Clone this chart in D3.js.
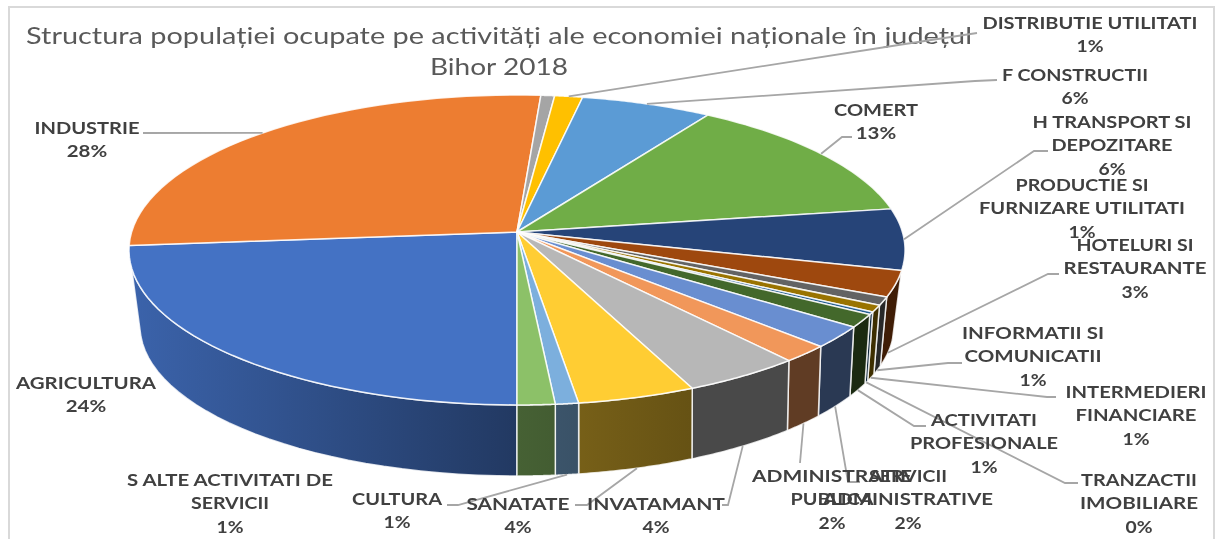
<!DOCTYPE html>
<html lang="en">
<head>
    <meta charset="UTF-8">
    <title>Structura populației ocupate</title>
    <script src="https://d3js.org/d3.v7.min.js"></script>
    <style>
        html, body { margin: 0; padding: 0; background: #fff; }
        svg { display: block; font-family: Lato, "Open Sans", sans-serif; filter: blur(0.45px); }
        .title { font-size: 24px; fill: #595959; }
        .label { font-size: 17px; font-weight: 700; fill: #404040; }
        .leader { fill: none; stroke: #a6a6a6; stroke-width: 1.8; }
    </style>
</head>
<body>
<svg width="1216" height="539"></svg>
<script>
    // data (angle of each slice as % of the disc)
    const categories = ["AGRICULTURA", "INDUSTRIE", "PRODUCTIE SI FURNIZARE UTILITATI", "DISTRIBUTIE UTILITATI",
        "F CONSTRUCTII", "COMERT", "H TRANSPORT SI DEPOZITARE", "HOTELURI SI RESTAURANTE", "INFORMATII SI COMUNICATII",
        "INTERMEDIERI FINANCIARE", "TRANZACTII IMOBILIARE", "ACTIVITATI PROFESIONALE", "SERVICII ADMINISTRATIVE",
        "ADMINISTRATIE PUBLICA", "INVATAMANT", "SANATATE", "CULTURA", "S ALTE ACTIVITATI DE SERVICII"];
    const values = [23.6, 27.5, 0.64, 1.3, 6.1, 13.4, 6.4, 2.7, 0.86, 0.7, 0.28, 1.36, 2.25, 1.8, 4.45, 4.4, 0.86, 1.4];
    const colors = ["#4472c4", "#ed7d31", "#a5a5a5", "#ffc000", "#5b9bd5", "#70ad47", "#264478", "#9e480e", "#636363",
        "#997300", "#255e91", "#43682b", "#698ed0", "#f1975a", "#b7b7b7", "#ffcd33", "#7cafdd", "#8cc168"];
    const titleLines = ["Structura populației ocupate pe activități ale economiei naționale în județul", "Bihor 2018"];

    // label layout: wrapped lines, centre x, first line y, width of each line
    const labelLines = [["AGRICULTURA"], ["INDUSTRIE"], ["PRODUCTIE SI", "FURNIZARE UTILITATI"], ["DISTRIBUTIE UTILITATI"],
        ["F CONSTRUCTII"], ["COMERT"], ["H TRANSPORT SI", "DEPOZITARE"], ["HOTELURI SI", "RESTAURANTE"], ["INFORMATII SI", "COMUNICATII"],
        ["INTERMEDIERI", "FINANCIARE"], ["TRANZACTII", "IMOBILIARE"], ["ACTIVITATI", "PROFESIONALE"], ["SERVICII", "ADMINISTRATIVE"],
        ["ADMINISTRATIE", "PUBLICA"], ["INVATAMANT"], ["SANATATE"], ["CULTURA"], ["S ALTE ACTIVITATI DE", "SERVICII"]];
    const lineWidths = [[140], [105], [133, 206], [215], [146], [84], [159, 121], [117, 143], [142, 137],
        [141, 121], [116, 118], [106, 148], [78, 170], [160, 83], [138], [103], [90], [206, 78]];
    const labelX = [86, 87, 1082, 1090, 1075, 876, 1112, 1135, 1033, 1136, 1139, 984, 908, 832, 656, 518, 397, 230];
    const labelY = [383, 128, 185, 23, 75, 110, 122, 245, 333, 392, 480, 420, 476, 476, 504, 504, 499, 480];

    // leader lines: elbows after the point on the slice edge
    const leaders = [null, [[143, 133]], null, [[905, 44], [977, 33]], [[975, 81], [997, 80]], [[842, 137], [852, 137]],
        [[1034, 151], [1048, 151]], [[1048, 274], [1059, 274]], [[948, 363], [962, 363]], [[1047, 397], [1056, 397]],
        [[1065, 483], [1078, 483]], [[914, 426], [926, 426]], [[848, 482], [860, 482]], [[800, 463]],
        [[728, 505], [722, 505]], [[587, 505], [575, 505]], [[458, 505], [447, 505]], null];

    const svg = d3.select("svg");

    // pie geometry: the top disc is a perspective view of a circle, k is the perspective strength
    const apex = { x: 517, y: 232 }, k = 0.116, a = 152.9, b = 385.4;
    const topEllipse = { x: 517, y: 250, rx: 388, ry: 155 };
    const bottomEllipse = { x: 517, y: 326, rx: 377, ry: 150 };
    const wallStretch = 1.03;
    // part of the rim that shows a wall, clockwise from the top of the disc
    const wallFrom = 104.3 * Math.PI / 180, wallTo = 256.8 * Math.PI / 180;

    function topPoint(t) {
        const u = Math.sin(t), v = -Math.cos(t), den = 1 - k * v;
        return [apex.x + b * u / den, apex.y + a * v / den];
    }
    // angle round the ellipse measured from its lowest point, positive to the right
    function phiOf(t) {
        const p = topPoint(t);
        return Math.atan2((p[0] - topEllipse.x) / topEllipse.rx, (p[1] - topEllipse.y) / topEllipse.ry);
    }
    function wallTop(phi) {
        return [topEllipse.x + topEllipse.rx * Math.sin(phi), topEllipse.y + topEllipse.ry * Math.cos(phi)];
    }
    function wallBottom(phi) {
        const q = phi * wallStretch;
        return [bottomEllipse.x + bottomEllipse.rx * Math.sin(q), bottomEllipse.y + bottomEllipse.ry * Math.cos(q)];
    }

    const pie = d3.pie().sort(null).value(d => d).startAngle(Math.PI).endAngle(3 * Math.PI);
    const arcs = pie(values);
    const line = d3.line();

    // walls get darker to the right
    const shade = d3.scaleLinear().domain([130, 517, 690, 905]).range([0.87, 0.5, 0.4, 0.4]);
    const defs = svg.append("defs");
    colors.forEach((c, i) => {
        const g = defs.append("linearGradient").attr("id", "wall" + i)
            .attr("gradientUnits", "userSpaceOnUse").attr("x1", 130).attr("x2", 905).attr("y1", 0).attr("y2", 0);
        shade.domain().forEach(x => {
            const base = d3.rgb(c), f = shade(x);
            g.append("stop").attr("offset", (x - 130) / 775)
                .attr("stop-color", d3.rgb(base.r * f, base.g * f, base.b * f));
        });
    });

    // chart frame
    svg.append("rect").attr("x", 9).attr("y", 7).attr("width", 1205).attr("height", 540)
        .attr("fill", "#fff").attr("stroke", "#d9d9d9").attr("stroke-width", 2);

    svg.selectAll(".title").data(titleLines).enter().append("text")
        .attr("class", "title")
        .attr("x", 499)
        .attr("y", (d, i) => 36 + i * 31)
        .attr("dy", "0.35em")
        .attr("text-anchor", "middle")
        .attr("textLength", (d, i) => i === 0 ? 946 : 138)
        .attr("lengthAdjust", "spacingAndGlyphs")
        .text(d => d);

    // walls
    arcs.forEach((d, i) => {
        const turn = d.startAngle >= 2 * Math.PI ? 2 * Math.PI : 0;
        const s = Math.max(wallFrom, d.startAngle - turn), e = Math.min(wallTo, d.endAngle - turn);
        if (e <= s) return;
        const steps = d3.range(0, 1.0001, 1 / 30).map(f => phiOf(s + (e - s) * f));
        const pts = steps.map(wallTop).concat(steps.slice().reverse().map(wallBottom));
        svg.append("path")
            .attr("d", line(pts) + "Z")
            .attr("fill", `url(#wall${i})`)
            .attr("stroke", "#fff")
            .attr("stroke-opacity", 0.8)
            .attr("stroke-width", 1.5)
            .attr("stroke-linejoin", "round");
    });

    // top of the pie
    arcs.forEach((d, i) => {
        const pts = d3.range(0, 1.0001, 1 / 40).map(f => topPoint(d.startAngle + (d.endAngle - d.startAngle) * f));
        svg.append("path")
            .attr("d", line([[apex.x, apex.y]].concat(pts)) + "Z")
            .attr("fill", colors[i])
            .attr("stroke", "#fff")
            .attr("stroke-opacity", 0.85)
            .attr("stroke-width", 1.5)
            .attr("stroke-linejoin", "round");
    });

    // leader lines
    arcs.forEach((d, i) => {
        if (!leaders[i]) return;
        const mid = (d.startAngle + d.endAngle) / 2;
        const start = Math.cos(mid) > -0.2 ? topPoint(mid) : wallBottom(phiOf(mid));
        svg.append("path").attr("class", "leader").attr("d", line([start].concat(leaders[i])));
    });

    // labels
    const lineStep = 23.5;
    categories.forEach((name, i) => {
        const pct = Math.round(values[i]) + "%";
        const lines = labelLines[i].concat([pct]);
        lines.forEach((t, j) => {
            svg.append("text")
                .attr("class", "label")
                .attr("x", labelX[i])
                .attr("y", labelY[i] + j * lineStep)
                .attr("dy", "0.35em")
                .attr("text-anchor", "middle")
                .attr("textLength", j < labelLines[i].length ? lineWidths[i][j] : pct.length * 13.5)
                .attr("lengthAdjust", "spacingAndGlyphs")
                .text(t);
        });
    });
</script>
</body>
</html>
